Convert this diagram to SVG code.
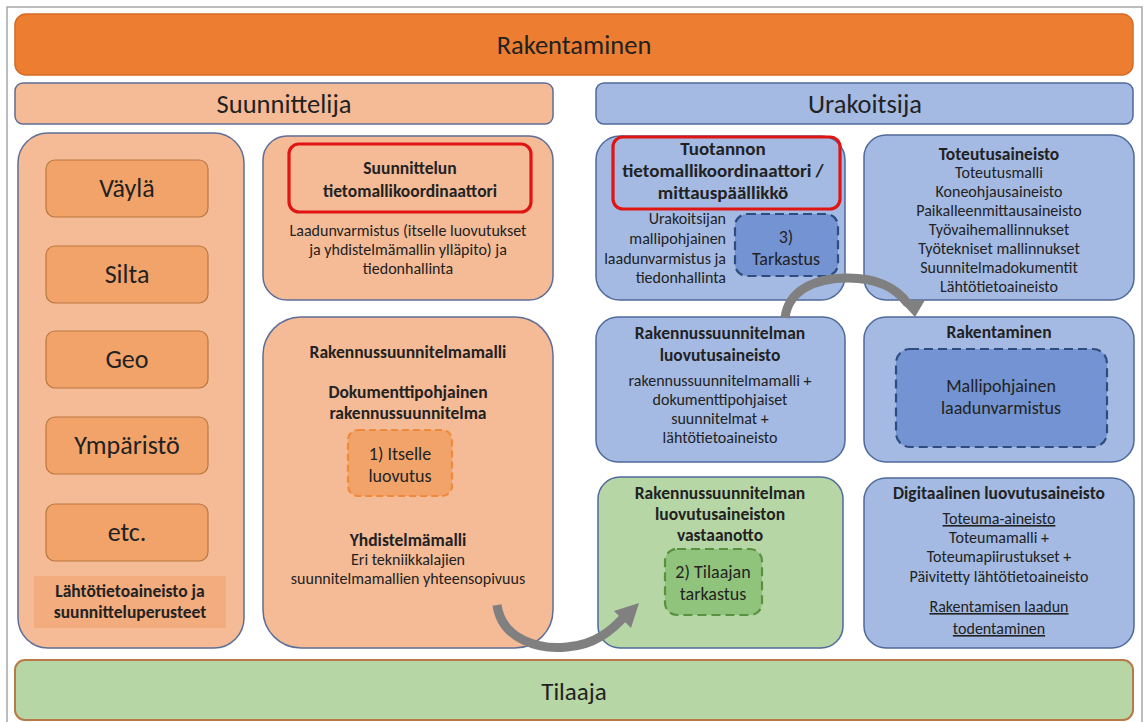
<svg xmlns="http://www.w3.org/2000/svg" width="1146" height="722" viewBox="0 0 1146 722">
  <defs>
    <style>
      text { font-family: Carlito, Lato, "Liberation Sans", sans-serif; fill: #222222; text-anchor: middle; }
      .t13 { font-size: 16px; }
      .b13 { font-size: 17.5px; font-weight: bold; }
      .b14 { font-size: 17.5px; font-weight: bold; }
      .b19 { font-size: 19px; font-weight: bold; }
      .t18 { font-size: 18px; }
      .t20 { font-size: 26px; }
      .t22 { font-size: 26.5px; }
      .u { text-decoration: underline; }
      .band-o { fill: #ED7D31; stroke: #D66A22; stroke-width: 1.5; }
      .band-lo { fill: #F5BB96; stroke: #5F6E97; stroke-width: 1.5; }
      .band-b { fill: #A4BAE3; stroke: #4F6A9C; stroke-width: 1.5; }
      .band-g { fill: #B6D6A5; stroke: #B87A46; stroke-width: 2; }
      .lo { fill: #F5BB96; stroke: #5F6E97; stroke-width: 1.5; }
      .item { fill: #F2A36A; stroke: #B9773F; stroke-width: 1.2; }
      .blue { fill: #A4BAE3; stroke: #4F6A9C; stroke-width: 1.5; }
      .green { fill: #B6D6A5; stroke: #4F6A9C; stroke-width: 1.5; }
      .red { fill: none; stroke: #E11414; stroke-width: 3.2; }
      .dash-o { fill: #F2A36A; stroke: #EE8A3C; stroke-width: 2.2; stroke-dasharray: 7 4; }
      .dash-b { fill: #7393D2; stroke: #2F4C7E; stroke-width: 2.2; stroke-dasharray: 9 5; }
      .dash-g { fill: #90C47C; stroke: #5A913F; stroke-width: 2.2; stroke-dasharray: 9 5; }
      .flow { fill: none; stroke: #808080; stroke-width: 9; }
      .head { fill: #808080; }
    </style>
  </defs>

  <rect x="0" y="0" width="1146" height="722" fill="#ffffff"/>
  <rect x="7" y="7" width="1135" height="716" fill="none" stroke="#A6A6A6" stroke-width="1.5"/>

  <!-- top band -->
  <g id="band-rakentaminen">
    <rect class="band-o" x="15" y="14" width="1118" height="61" rx="11"/>
    <text class="t22" x="574" y="54">Rakentaminen</text>
  </g>

  <g id="band-suunnittelija">
    <rect class="band-lo" x="15" y="83" width="538" height="41" rx="8"/>
    <text class="t22" x="284" y="113">Suunnittelija</text>
  </g>

  <g id="band-urakoitsija">
    <rect class="band-b" x="596" y="83" width="537" height="41" rx="8"/>
    <text class="t22" x="865" y="113">Urakoitsija</text>
  </g>

  <!-- designer disciplines -->
  <g id="disciplines">
    <rect class="lo" x="18" y="133" width="226" height="515" rx="30"/>
    <rect class="item" x="46" y="160" width="162" height="57" rx="9"/>
    <text class="t20" x="127" y="197">Väylä</text>
    <rect class="item" x="46" y="246" width="162" height="57" rx="9"/>
    <text class="t20" x="127" y="283">Silta</text>
    <rect class="item" x="46" y="331" width="162" height="57" rx="9"/>
    <text class="t20" x="127" y="368">Geo</text>
    <rect class="item" x="46" y="417" width="162" height="57" rx="9"/>
    <text class="t20" x="127" y="454">Ympäristö</text>
    <rect class="item" x="46" y="504" width="162" height="57" rx="9"/>
    <text class="t20" x="127" y="541">etc.</text>
    <rect x="34" y="576" width="192" height="52" fill="#F3AC7E"/>
    <text class="b13" x="130" y="597">Lähtötietoaineisto ja</text>
    <text class="b13" x="130" y="618">suunnitteluperusteet</text>
  </g>

  <g id="design-coordinator">
    <rect class="lo" x="263" y="136" width="290" height="164" rx="24"/>
    <rect class="red" x="289" y="144" width="242" height="68" rx="10"/>
    <text class="b14" x="410" y="174">Suunnittelun</text>
    <text class="b14" x="410" y="197">tietomallikoordinaattori</text>
    <text class="t13" x="408" y="236">Laadunvarmistus (itselle luovutukset</text>
    <text class="t13" x="408" y="255">ja yhdistelmämallin ylläpito) ja</text>
    <text class="t13" x="408" y="274">tiedonhallinta</text>
  </g>

  <g id="design-model">
    <rect class="lo" x="263" y="317" width="290" height="331" rx="38"/>
    <text class="b14" x="408" y="358">Rakennussuunnitelmamalli</text>
    <text class="b14" x="408" y="398">Dokumenttipohjainen</text>
    <text class="b14" x="408" y="419">rakennussuunnitelma</text>
    <rect class="dash-o" x="348" y="430" width="104" height="66" rx="10"/>
    <text class="t18" x="400" y="460">1) Itselle</text>
    <text class="t18" x="400" y="482">luovutus</text>
    <text class="b14" x="408" y="546">Yhdistelmämalli</text>
    <text class="t13" x="408" y="565">Eri tekniikkalajien</text>
    <text class="t13" x="408" y="584">suunnitelmamallien yhteensopivuus</text>
  </g>

  <!-- contractor -->
  <g id="production-coordinator">
    <rect class="blue" x="596" y="136" width="249" height="164" rx="24"/>
    <rect class="red" x="613" y="137" width="227" height="72" rx="10"/>
    <text class="b19" x="723" y="155">Tuotannon</text>
    <text class="b19" x="723" y="177">tietomallikoordinaattori /</text>
    <text class="b19" x="723" y="199">mittauspäällikkö</text>
    <text class="t13" x="726" y="224" style="text-anchor:end">Urakoitsijan</text>
    <text class="t13" x="726" y="244" style="text-anchor:end">mallipohjainen</text>
    <text class="t13" x="726" y="264" style="text-anchor:end">laadunvarmistus ja</text>
    <text class="t13" x="726" y="283" style="text-anchor:end">tiedonhallinta</text>
    <rect class="dash-b" x="735" y="214" width="103" height="62" rx="12"/>
    <text class="t18" x="786" y="243">3)</text>
    <text class="t18" x="786" y="265">Tarkastus</text>
  </g>

  <g id="implementation-data">
    <rect class="blue" x="864" y="135" width="270" height="165" rx="22"/>
    <text class="b14" x="999" y="160">Toteutusaineisto</text>
    <text class="t13" x="999" y="178">Toteutusmalli</text>
    <text class="t13" x="999" y="197">Koneohjausaineisto</text>
    <text class="t13" x="999" y="216">Paikalleenmittausaineisto</text>
    <text class="t13" x="999" y="235">Työvaihemallinnukset</text>
    <text class="t13" x="999" y="254">Työtekniset mallinnukset</text>
    <text class="t13" x="999" y="273">Suunnitelmadokumentit</text>
    <text class="t13" x="999" y="292">Lähtötietoaineisto</text>
  </g>

  <g id="handover-data">
    <rect class="blue" x="596" y="317" width="249" height="145" rx="22"/>
    <text class="b14" x="720" y="339">Rakennussuunnitelman</text>
    <text class="b14" x="720" y="361">luovutusaineisto</text>
    <text class="t13" x="720" y="386">rakennussuunnitelmamalli +</text>
    <text class="t13" x="720" y="405">dokumenttipohjaiset</text>
    <text class="t13" x="720" y="424">suunnitelmat +</text>
    <text class="t13" x="720" y="443">lähtötietoaineisto</text>
  </g>

  <g id="construction">
    <rect class="blue" x="864" y="317" width="270" height="145" rx="22"/>
    <text class="b14" x="999" y="338">Rakentaminen</text>
    <rect class="dash-b" x="896" y="349" width="211" height="98" rx="14"/>
    <text class="t18" x="1001" y="392">Mallipohjainen</text>
    <text class="t18" x="1001" y="414">laadunvarmistus</text>
  </g>

  <g id="handover-reception">
    <rect class="green" x="598" y="477" width="245" height="171" rx="22"/>
    <text class="b14" x="720" y="499">Rakennussuunnitelman</text>
    <text class="b14" x="720" y="520">luovutusaineiston</text>
    <text class="b14" x="720" y="541">vastaanotto</text>
    <rect class="dash-g" x="665" y="549" width="97" height="66" rx="12"/>
    <text class="t18" x="713" y="578">2) Tilaajan</text>
    <text class="t18" x="713" y="600">tarkastus</text>
  </g>

  <g id="digital-handover">
    <rect class="blue" x="864" y="478" width="270" height="170" rx="22"/>
    <text class="b14" x="999" y="499">Digitaalinen luovutusaineisto</text>
    <text class="t13 u" x="999" y="524">Toteuma-aineisto</text>
    <text class="t13" x="999" y="543">Toteumamalli +</text>
    <text class="t13" x="999" y="562">Toteumapiirustukset +</text>
    <text class="t13" x="999" y="582">Päivitetty lähtötietoaineisto</text>
    <text class="t13 u" x="999" y="612">Rakentamisen laadun</text>
    <text class="t13 u" x="999" y="634">todentaminen</text>
  </g>

  <g id="band-tilaaja">
    <rect class="band-g" x="15" y="660" width="1118" height="60" rx="10"/>
    <text class="t22" x="574" y="700" style="font-size:25px">Tilaaja</text>
  </g>

  <!-- flow arrows -->
  <g id="connectors">
    <path class="flow" d="M 497 605 C 502 640 540 650 567 647 C 595 645 612 630 624 617"/>
    <polygon class="head" points="639,603 631,628 614,611"/>
    <path class="flow" d="M 785 318 C 788 292 812 278 848 278 C 880 278 898 290 908 304"/>
    <polygon class="head" points="915,317 899,300 925,300"/>
  </g>
</svg>
